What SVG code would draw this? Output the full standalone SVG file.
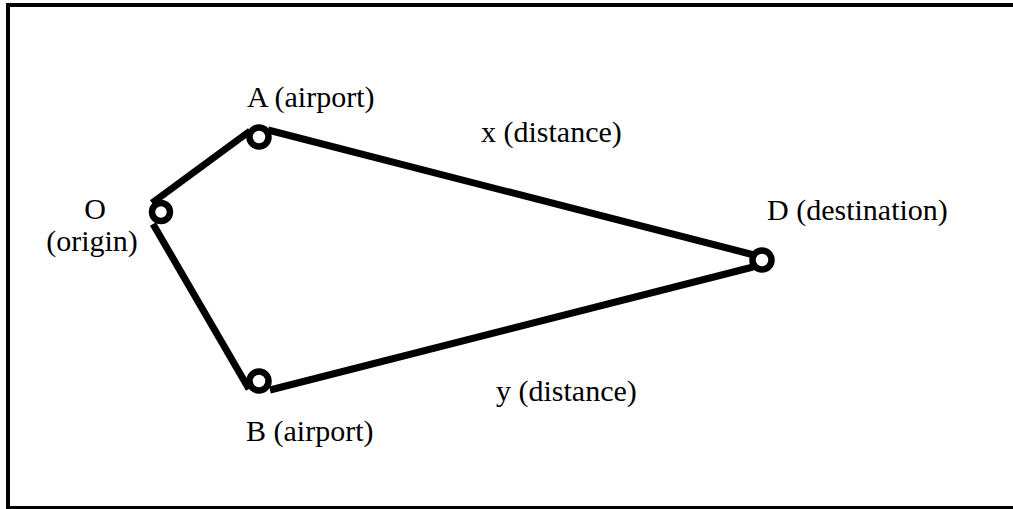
<svg xmlns="http://www.w3.org/2000/svg" width="1013" height="509" viewBox="0 0 1013 509">
<style>
.lbl{font-family:"Liberation Serif","Times New Roman",serif;font-size:30px;fill:#000}
.edge{stroke:#000;stroke-width:7;fill:none}
.node circle{fill:#fff;stroke:#000;stroke-width:6.5}
</style>
<rect x="8" y="5" width="1010" height="503" fill="#fff" stroke="#000" stroke-width="4"/>
<g id="connectors">
<line class="edge" x1="152" y1="203" x2="250" y2="131"/>
<line class="edge" x1="268" y1="130" x2="754" y2="255"/>
<line class="edge" x1="753" y1="267" x2="270" y2="390"/>
<line class="edge" x1="153" y1="224" x2="249" y2="389"/>
</g>
<g id="node-O" class="node">
<circle cx="161" cy="212" r="9"/>
<text class="lbl" x="95" y="219" text-anchor="middle">O</text>
<text class="lbl" x="92" y="251" text-anchor="middle">(origin)</text>
</g>
<g id="node-A" class="node">
<circle cx="259" cy="137" r="9.5"/>
<text class="lbl" x="247" y="107">A (airport)</text>
</g>
<g id="node-B" class="node">
<circle cx="259" cy="381" r="9.5"/>
<text class="lbl" x="246" y="441">B (airport)</text>
</g>
<g id="node-D" class="node">
<circle cx="762" cy="260" r="9.5"/>
<text class="lbl" x="767" y="220">D (destination)</text>
</g>
<text class="lbl" x="481" y="142">x (distance)</text>
<text class="lbl" x="496" y="401">y (distance)</text>
</svg>
